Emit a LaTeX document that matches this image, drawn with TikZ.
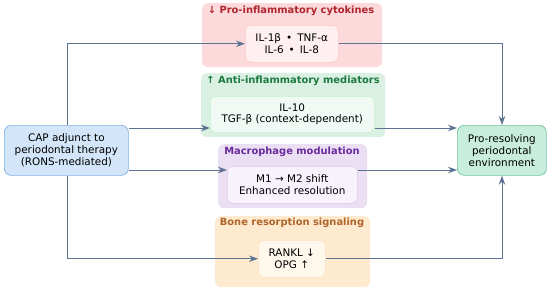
\documentclass[tikz,border=0pt]{standalone}
\usepackage{fontspec}
\setmainfont{DejaVu Sans}
\usetikzlibrary{arrows.meta, positioning}

\definecolor{arrowc}{HTML}{5D7393}
\definecolor{capfill}{HTML}{D3E5F8}
\definecolor{capdraw}{HTML}{7FAEE0}
\definecolor{resfill}{HTML}{C8EDDC}
\definecolor{resdraw}{HTML}{6CC39C}
\definecolor{profill}{HTML}{FCD9DA}
\definecolor{protxt}{HTML}{B0252E}
\definecolor{antifill}{HTML}{D9F0E3}
\definecolor{antitxt}{HTML}{1C7A3E}
\definecolor{macfill}{HTML}{EBDFF4}
\definecolor{mactxt}{HTML}{6A2A9C}
\definecolor{bonefill}{HTML}{FDEACF}
\definecolor{bonetxt}{HTML}{B0642A}

\begin{document}
\begin{tikzpicture}[x=1pt, y=-1pt,
  grp/.style={rectangle, rounded corners=6pt, anchor=north west},
  ttl/.style={font=\bfseries\fontsize{9.9}{11}\selectfont},
  inner/.style={draw, rectangle, rounded corners=6pt, anchor=north west,
                align=center, font=\fontsize{10.4}{11.6}\selectfont, line width=0.5pt,
                inner sep=0pt},
  side/.style={draw, rectangle, rounded corners=7pt, anchor=north west,
               align=center, font=\fontsize{10.4}{12}\selectfont, line width=0.7pt,
               minimum width=124pt, minimum height=50pt, inner sep=0pt},
  arr/.style={-{Stealth[length=9pt, width=6.5pt]}, draw=arrowc, line width=1pt}
]
  \useasboundingbox (0,0) rectangle (550,292);

  % group panels
  \node[grp, fill=profill,  minimum width=180pt, minimum height=64pt] (gpro)  at (202,3)   {};
  \node[grp, fill=antifill, minimum width=184pt, minimum height=64pt] (ganti) at (201,73)  {};
  \node[grp, fill=macfill,  minimum width=149pt, minimum height=64pt] (gmac)  at (218,144) {};
  \node[grp, fill=bonefill, minimum width=155pt, minimum height=71pt] (gbone) at (215,216) {};

  \node[ttl, text=protxt]  (tpro)  at (291,11)  {↓ Pro-inflammatory cytokines};
  \node[ttl, text=antitxt] (tanti) at (293,81)  {↑ Anti-inflammatory mediators};
  \node[ttl, text=mactxt]  (tmac)  at (292,152) {Macrophage modulation};
  \node[ttl, text=bonetxt] (tbone) at (292,223) {Bone resorption signaling};

  % inner boxes
  \node[inner, draw=profill!80!red!70, fill=white!60!profill,
        minimum width=93pt, minimum height=37pt] (pro) at (245,25)
        {IL-1β \,•\, TNF-α\\IL-6 \,•\, IL-8};
  \node[inner, draw=antifill!80!green!70, fill=white!60!antifill,
        minimum width=164pt, minimum height=36pt] (anti) at (210,96)
        {IL-10\\TGF-β (context-dependent)};
  \node[inner, draw=macfill!80!violet!70, fill=white!60!macfill,
        minimum width=130pt, minimum height=37pt] (mac) at (227,166)
        {M1 → M2 shift\\Enhanced resolution};
  \node[inner, draw=bonefill!80!orange!70, fill=white!60!bonefill,
        minimum width=67pt, minimum height=37pt] (bone) at (258,240)
        {RANKL ↓\\OPG ↑};

  % end nodes
  \node[side, fill=capfill, draw=capdraw] (cap) at (4,125)
        {CAP adjunct to\\periodontal therapy\\(RONS-mediated)};
  \node[side, fill=resfill, draw=resdraw, minimum width=89pt] (res) at (457,125)
        {Pro-resolving\\periodontal\\environment};

  % connectors
  \draw[arr] (cap.north -| 67,0) |- (pro.west);
  \draw[arr] (cap.east |- 0,128) -- (anti.west |- 0,128);
  \draw[arr] (cap.east |- 0,170) -- (mac.west |- 0,170);
  \draw[arr] (cap.south -| 67,0) |- (bone.west);
  \draw[arr] (pro.east) -| (res.north -| 502,0);
  \draw[arr] (anti.east |- 0,128) -- (res.west |- 0,128);
  \draw[arr] (mac.east |- 0,170) -- (res.west |- 0,170);
  \draw[arr] (bone.east) -| (res.south -| 502,0);
\end{tikzpicture}
\end{document}
